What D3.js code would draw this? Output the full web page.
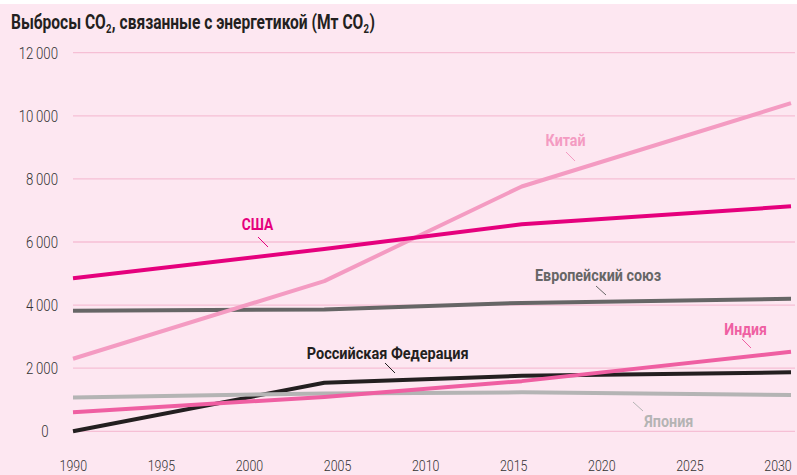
<!DOCTYPE html>
<html><head><meta charset="utf-8">
<script src="https://cdn.jsdelivr.net/npm/d3@7"></script>
<style>
html,body{margin:0;padding:0;background:#fff;}
svg{display:block;}
text{font-family:Roboto,"DejaVu Sans Condensed",sans-serif;}
</style></head>
<body>
<svg id="c" width="797" height="475"></svg>
<script>
const years = [1990, 2004, 2015, 2030];
const usa    = [4850, 5780, 6560, 7130];
const china  = [2300, 4760, 7760, 10400];
const eu     = [3820, 3860, 4070, 4200];
const russia = [0, 1540, 1760, 1870];
const india  = [600, 1090, 1590, 2520];
const japan  = [1075, 1200, 1235, 1150];
const yTicks = [0, 2000, 4000, 6000, 8000, 10000, 12000];
const xTicks = [1990, 1995, 2000, 2005, 2010, 2015, 2020, 2025, 2030];
const seriesNames = ["США", "Китай", "Европейский союз", "Российская Федерация", "Индия", "Япония"];
const titleParts = [["Выбросы CO", false], ["2", true], [", связанные с энергетикой (Мт CO", false], ["2", true], [")", false]];

const colors = {
  "США": "#e5007d",
  "Китай": "#f49bc2",
  "Европейский союз": "#666666",
  "Российская Федерация": "#231f20",
  "Индия": "#ef5fa2",
  "Япония": "#b4b4b4"
};
const seriesData = [usa, china, eu, russia, india, japan];

const svg = d3.select("#c");
svg.append("rect").attr("x",0).attr("y",4).attr("width",797).attr("height",471).attr("fill","#fde7f1");

const x = d3.scaleLinear().domain([1990, 2030]).range([73, 791]);
const xLab = d3.scaleLinear().domain([1990, 2030]).range([73.3, 778]);
const y = d3.scaleLinear().domain([0, 12000]).range([431.3, 52.7]);

// grid
svg.append("g").selectAll("line").data(yTicks).join("line")
  .attr("x1", 73).attr("x2", 795)
  .attr("y1", d => y(d)).attr("y2", d => y(d))
  .attr("stroke", "#f6bfd5").attr("stroke-width", 1.3);

const fmt = d => d3.format(",")(d).replace(/,/g, "\u2009");
svg.append("g").selectAll("text").data(yTicks).join("text")
  .attr("transform", d => `translate(${d === 0 ? 48.5 : 58},${y(d) + 5.8}) scale(0.8,1)`)
  .attr("text-anchor", "end").attr("font-size", 16.5).attr("font-weight", 300).attr("fill", "#333")
  .text(d => fmt(d));

svg.append("g").selectAll("text").data(xTicks).join("text")
  .attr("transform", d => `translate(${xLab(d)},470.7) scale(0.8,1)`)
  .attr("text-anchor", "middle").attr("font-size", 15.5).attr("font-weight", 300).attr("fill", "#333")
  .text(d => d);

// title as sequential text pieces, condensed by a group scale
const tg = svg.append("g");
let cx = 0;
titleParts.forEach(([s, sub]) => {
  const el = tg.append("text").attr("x", cx).attr("y", sub ? 4 : 0)
    .attr("font-size", sub ? 12 : 19.5).attr("font-weight", "bold").attr("fill", "#231f20")
    .text(s);
  cx += el.node().getComputedTextLength() + (sub ? 0.5 : 0);
});
const sx = 364 / cx;
tg.attr("transform", `translate(11,29.3) scale(${sx},1)`);

const line = d3.line().x((d, i) => x(years[i])).y(d => y(d));
const order = [3, 5, 4, 2, 1, 0];
order.forEach(k => {
  svg.append("path").datum(seriesData[k])
    .attr("d", line).attr("fill", "none")
    .attr("stroke", colors[seriesNames[k]]).attr("stroke-width", 4)
    .attr("stroke-linejoin", "round");
});

// labels
const labels = [
  {n: "США", tx: 241.7, ty: 230, w: 31.5, l: [258, 237, 268, 247]},
  {n: "Китай", tx: 545.5, ty: 145.7, w: 40, l: [566, 152, 575, 161]},
  {n: "Европейский союз", tx: 535, ty: 281, w: 126, l: [596, 286, 606, 295]},
  {n: "Российская Федерация", tx: 306.7, ty: 359, w: 162, l: [385, 363, 395, 373]},
  {n: "Индия", tx: 724.3, ty: 335, w: 42.5, l: [742, 339, 751, 348]},
  {n: "Япония", tx: 644.3, ty: 426.7, w: 49, l: [633, 402, 643, 411]}
];
labels.forEach(o => {
  svg.append("text").attr("x", o.tx).attr("y", o.ty)
    .attr("font-size", 17).attr("font-weight", "bold")
    .attr("textLength", o.w).attr("lengthAdjust", "spacingAndGlyphs")
    .attr("fill", colors[o.n]).text(o.n);
  svg.append("line").attr("x1", o.l[0]).attr("y1", o.l[1]).attr("x2", o.l[2]).attr("y2", o.l[3])
    .attr("stroke", colors[o.n]).attr("stroke-width", 1);
});
</script>
</body></html>
